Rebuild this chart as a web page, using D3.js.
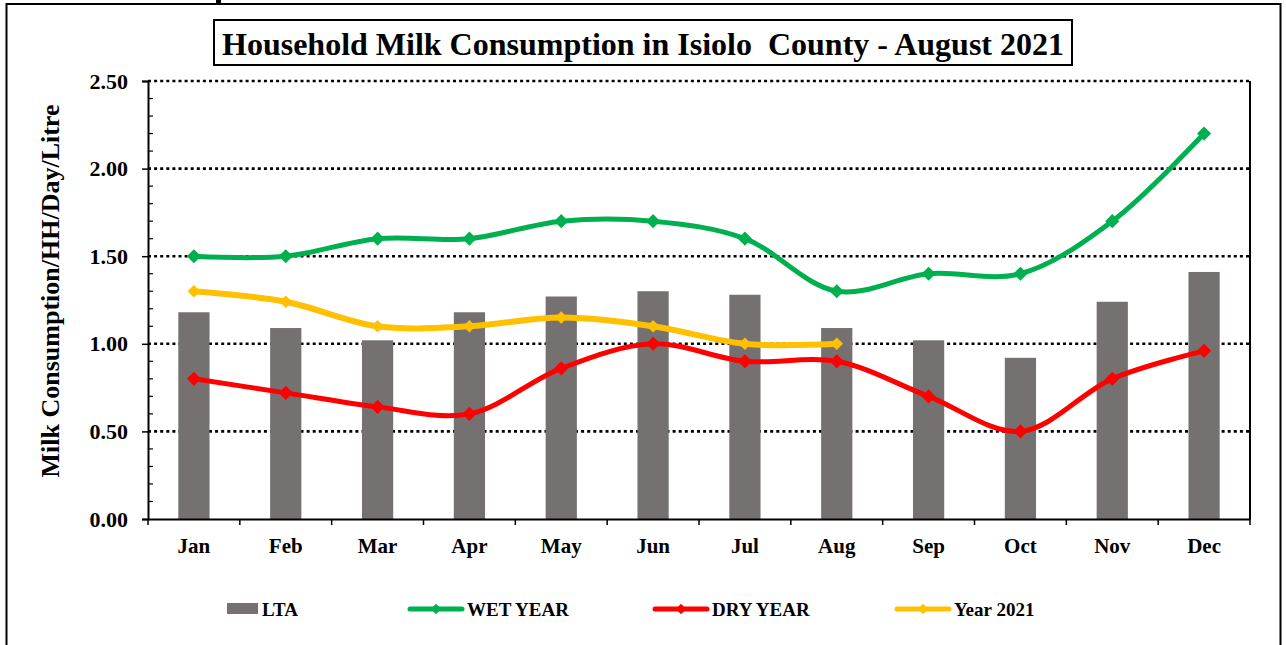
<!DOCTYPE html>
<html>
<head>
<meta charset="utf-8">
<script src="https://cdn.jsdelivr.net/npm/d3@7"></script>
<style>
  html, body { margin: 0; padding: 0; background: #fff; }
  svg { display: block; font-family: "Liberation Serif", "Times New Roman", serif; font-weight: bold; }
</style>
</head>
<body>
<svg id="chart" width="1286" height="645"></svg>
<script>
// Household milk consumption, litres per household per day
const months = ["Jan","Feb","Mar","Apr","May","Jun","Jul","Aug","Sep","Oct","Nov","Dec"];
const lta      = [1.18, 1.09, 1.02, 1.18, 1.27, 1.30, 1.28, 1.09, 1.02, 0.92, 1.24, 1.41];
const wetYear  = [1.50, 1.50, 1.60, 1.60, 1.70, 1.70, 1.60, 1.30, 1.40, 1.40, 1.70, 2.20];
const dryYear  = [0.80, 0.72, 0.64, 0.60, 0.86, 1.00, 0.90, 0.90, 0.70, 0.50, 0.80, 0.96];
const year2021 = [1.30, 1.24, 1.10, 1.10, 1.15, 1.10, 1.00, 1.00];
const yTicks   = [0, 0.5, 1.0, 1.5, 2.0, 2.5];
const legendLabels = ["LTA", "WET YEAR", "DRY YEAR", "Year 2021"];

const titleText = "Household Milk Consumption in Isiolo  County - August 2021";
const yLabel = "Milk Consumption/HH/Day/Litre";

const colors = { lta: "#767171", wet: "#00B050", dry: "#FF0000", y21: "#FFC000" };

const svg = d3.select("#chart");
const plot = { left: 148, right: 1250, top: 81, bottom: 519 };

// outer frame
svg.append("rect")
  .attr("x", 6.5).attr("y", 4).attr("width", 1274).attr("height", 660)
  .attr("fill", "none").attr("stroke", "#000").attr("stroke-width", 2);
// small stroke hanging from the page above the frame
svg.append("path").attr("d", "M216,0 H221 V4 H216 Z").attr("fill", "#000");

const x = d3.scaleBand().domain(months).range([plot.left, plot.right]).paddingInner(0).paddingOuter(0);
const y = d3.scaleLinear().domain([0, 2.5]).range([plot.bottom, plot.top]);

// dotted horizontal gridlines
svg.append("g").selectAll("line")
  .data(yTicks.filter(d => d > 0))
  .join("line")
  .attr("x1", plot.left).attr("x2", plot.right)
  .attr("y1", d => y(d)).attr("y2", d => y(d))
  .attr("stroke", "#000").attr("stroke-width", 2.6)
  .attr("stroke-dasharray", "3,3.1");

// right border of plot
svg.append("line")
  .attr("x1", plot.right).attr("x2", plot.right)
  .attr("y1", plot.top).attr("y2", plot.bottom)
  .attr("stroke", "#000").attr("stroke-width", 2);

// bars (LTA)
const barW = x.bandwidth() * 0.34;
svg.append("g").selectAll("rect")
  .data(lta)
  .join("rect")
  .attr("x", (d, i) => x(months[i]) + x.bandwidth() / 2 - barW / 2)
  .attr("y", d => y(d))
  .attr("width", barW)
  .attr("height", d => y(0) - y(d))
  .attr("fill", colors.lta);

// Y axis: major ticks outside, minor ticks inside
const yAxis = d3.axisLeft(y).tickValues(yTicks).tickFormat(d3.format(".2f")).tickSize(6).tickPadding(14);
const gy = svg.append("g").attr("transform", `translate(${plot.left},0)`).call(yAxis);
gy.select(".domain").attr("stroke", "#000").attr("stroke-width", 2);
gy.selectAll(".tick line").attr("stroke", "#000").attr("stroke-width", 1.5);
gy.selectAll(".tick text").attr("font-size", 22).attr("font-family", "Liberation Serif")
  .attr("font-weight", "bold").attr("fill", "#000");
const minor = d3.range(0, 26).map(i => i / 10).filter(v => Math.round(v * 10) % 5 !== 0);
svg.append("g").selectAll("line").data(minor).join("line")
  .attr("x1", plot.left).attr("x2", plot.left + 5)
  .attr("y1", d => y(d)).attr("y2", d => y(d))
  .attr("stroke", "#000").attr("stroke-width", 1.2);

// X axis with ticks on category boundaries
const gx = svg.append("g").attr("transform", `translate(0,${plot.bottom})`)
  .call(d3.axisBottom(x).tickSize(0).tickPadding(19));
gx.select(".domain").attr("stroke", "#000").attr("stroke-width", 2);
gx.selectAll(".tick text").attr("font-size", 21).attr("font-family", "Liberation Serif")
  .attr("font-weight", "bold").attr("fill", "#000");
const bounds = months.map(m => x(m)).concat([plot.right]);
svg.append("g").selectAll("line").data(bounds).join("line")
  .attr("x1", d => d).attr("x2", d => d)
  .attr("y1", plot.bottom).attr("y2", plot.bottom + 6)
  .attr("stroke", "#000").attr("stroke-width", 1.5);

// smoothed lines with diamond markers
const cx = i => x(months[i]) + x.bandwidth() / 2;
const line = d3.line().x((d, i) => cx(i)).y(d => y(d)).curve(d3.curveCatmullRom.alpha(0.5));
const diamond = (size) => d3.symbol(d3.symbolSquare, size)();

function drawSeries(vals, color, width, msize) {
  svg.append("path").datum(vals)
    .attr("d", line).attr("fill", "none")
    .attr("stroke", color).attr("stroke-width", width)
    .attr("stroke-linejoin", "round").attr("stroke-linecap", "round");
  svg.append("g").selectAll("path").data(vals).join("path")
    .attr("d", diamond(msize))
    .attr("transform", (d, i) => `translate(${cx(i)},${y(d)}) rotate(45)`)
    .attr("fill", color);
}
drawSeries(wetYear, colors.wet, 5, 100);
drawSeries(dryYear, colors.dry, 5, 100);
drawSeries(year2021, colors.y21, 6, 80);

// title box
const titleG = svg.append("g");
titleG.append("rect")
  .attr("x", 214).attr("y", 20).attr("width", 858).attr("height", 45)
  .attr("fill", "#fff").attr("stroke", "#000").attr("stroke-width", 2);
titleG.append("text")
  .attr("x", 643).attr("y", 55).attr("text-anchor", "middle")
  .attr("font-size", 32).attr("xml:space", "preserve").style("white-space", "pre")
  .text(titleText);

// y axis title
svg.append("text")
  .attr("transform", "translate(59,291) rotate(-90)")
  .attr("text-anchor", "middle").attr("font-size", 26)
  .text(yLabel);

// legend
const legend = svg.append("g").attr("font-size", 19);
const lx = [227, 410, 655, 897];
const lineColors = [null, colors.wet, colors.dry, colors.y21];
legendLabels.forEach((lab, i) => {
  const g = legend.append("g");
  if (i === 0) {
    g.append("rect").attr("x", lx[i]).attr("y", 603).attr("width", 31).attr("height", 11).attr("fill", colors.lta);
    g.append("text").attr("x", lx[i] + 35).attr("y", 616).text(lab);
  } else {
    g.append("line").attr("x1", lx[i]).attr("x2", lx[i] + 52).attr("y1", 609).attr("y2", 609)
      .attr("stroke", lineColors[i]).attr("stroke-width", 5).attr("stroke-linecap", "round");
    g.append("path").attr("d", diamond(55))
      .attr("transform", `translate(${lx[i] + 26},609) rotate(45)`).attr("fill", lineColors[i]);
    g.append("text").attr("x", lx[i] + 57).attr("y", 616).text(lab);
  }
});
</script>
</body>
</html>
